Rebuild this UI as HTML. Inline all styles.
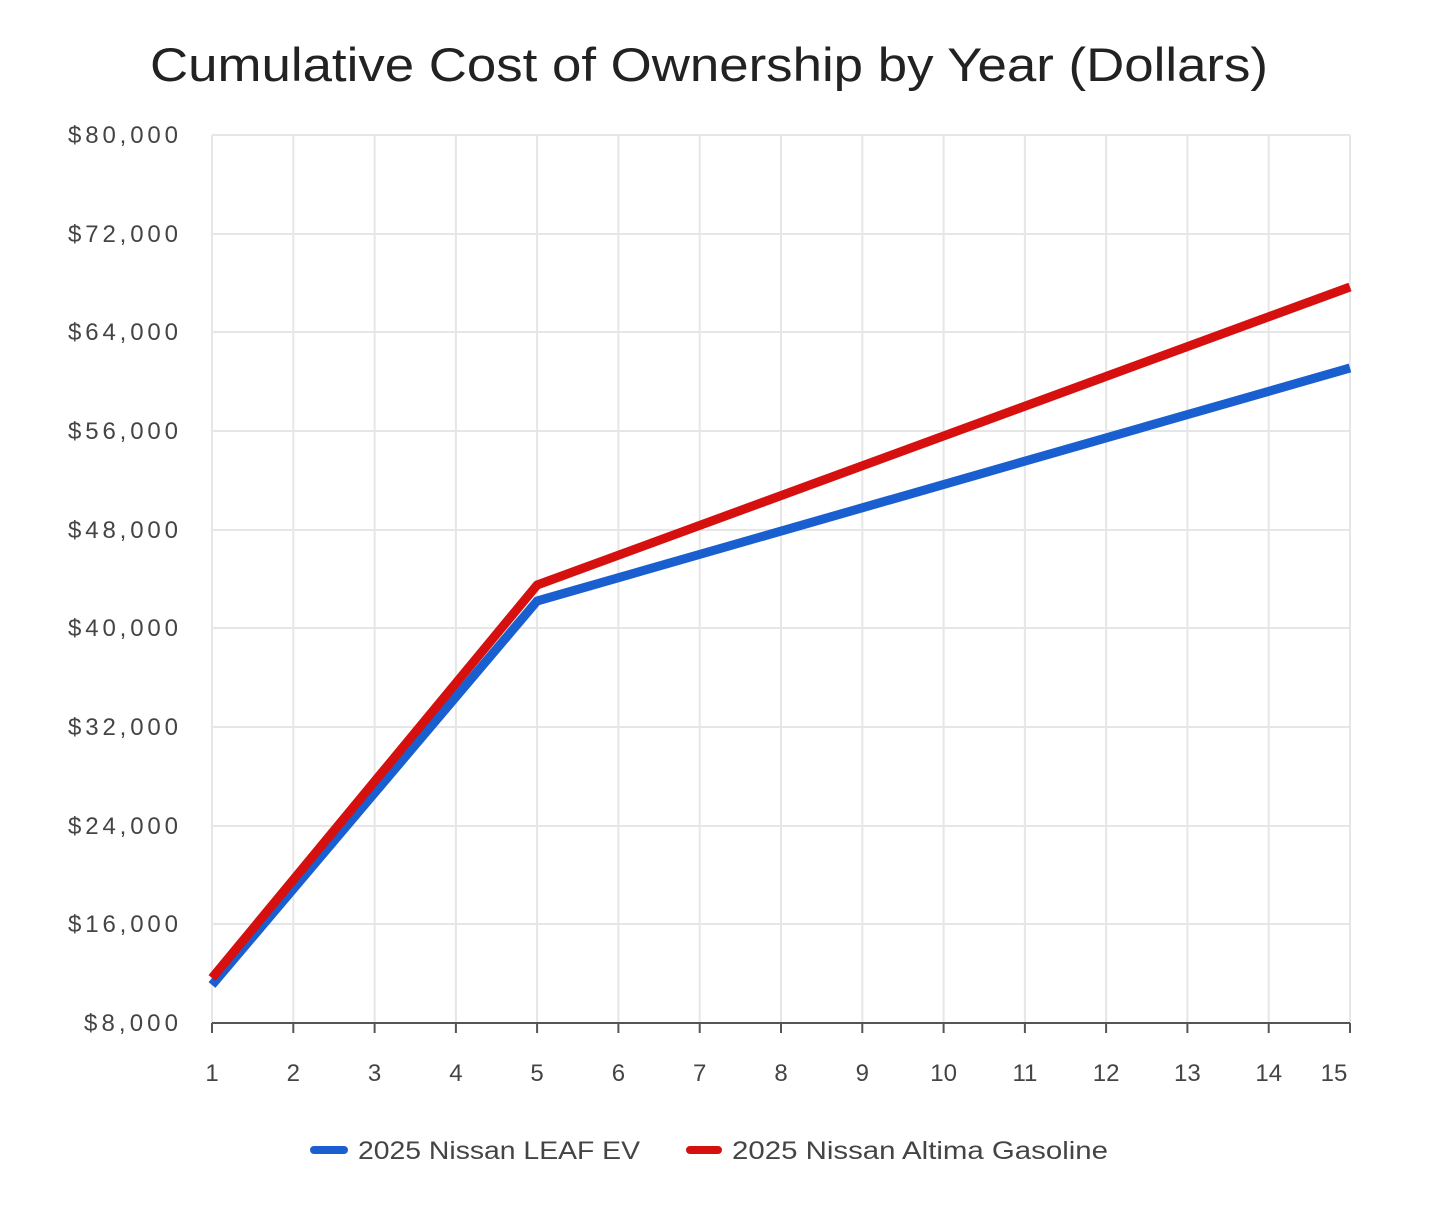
<!DOCTYPE html>
<html><head><meta charset="utf-8"><style>
html,body{margin:0;padding:0;background:#fff;}
svg{display:block;}
text{font-family:"Liberation Sans",sans-serif;}
</style></head><body>
<svg width="1440" height="1221" viewBox="0 0 1440 1221" xmlns="http://www.w3.org/2000/svg">
<rect width="1440" height="1221" fill="#fff"/>
<text x="150" y="81" font-size="47" fill="#222" textLength="1118" lengthAdjust="spacingAndGlyphs">Cumulative Cost of Ownership by Year (Dollars)</text>
<g stroke="#e6e6e6" stroke-width="2">
<line x1="212" y1="135" x2="1350" y2="135"/>
<line x1="212" y1="234" x2="1350" y2="234"/>
<line x1="212" y1="332" x2="1350" y2="332"/>
<line x1="212" y1="431" x2="1350" y2="431"/>
<line x1="212" y1="530" x2="1350" y2="530"/>
<line x1="212" y1="628" x2="1350" y2="628"/>
<line x1="212" y1="727" x2="1350" y2="727"/>
<line x1="212" y1="826" x2="1350" y2="826"/>
<line x1="212" y1="924" x2="1350" y2="924"/>
<line x1="293.3" y1="135" x2="293.3" y2="1023"/>
<line x1="374.6" y1="135" x2="374.6" y2="1023"/>
<line x1="455.9" y1="135" x2="455.9" y2="1023"/>
<line x1="537.1" y1="135" x2="537.1" y2="1023"/>
<line x1="618.4" y1="135" x2="618.4" y2="1023"/>
<line x1="699.7" y1="135" x2="699.7" y2="1023"/>
<line x1="781" y1="135" x2="781" y2="1023"/>
<line x1="862.3" y1="135" x2="862.3" y2="1023"/>
<line x1="943.6" y1="135" x2="943.6" y2="1023"/>
<line x1="1024.9" y1="135" x2="1024.9" y2="1023"/>
<line x1="1106.1" y1="135" x2="1106.1" y2="1023"/>
<line x1="1187.4" y1="135" x2="1187.4" y2="1023"/>
<line x1="1268.7" y1="135" x2="1268.7" y2="1023"/>
<line x1="1350" y1="135" x2="1350" y2="1023"/>
<line x1="212" y1="135" x2="212" y2="1023"/>
</g>
<line x1="212" y1="1023" x2="1350" y2="1023" stroke="#555" stroke-width="2"/>
<g stroke="#555" stroke-width="2">
<line x1="212" y1="1023" x2="212" y2="1033"/><line x1="293.3" y1="1023" x2="293.3" y2="1033"/><line x1="374.6" y1="1023" x2="374.6" y2="1033"/><line x1="455.9" y1="1023" x2="455.9" y2="1033"/><line x1="537.1" y1="1023" x2="537.1" y2="1033"/><line x1="618.4" y1="1023" x2="618.4" y2="1033"/><line x1="699.7" y1="1023" x2="699.7" y2="1033"/><line x1="781" y1="1023" x2="781" y2="1033"/><line x1="862.3" y1="1023" x2="862.3" y2="1033"/><line x1="943.6" y1="1023" x2="943.6" y2="1033"/><line x1="1024.9" y1="1023" x2="1024.9" y2="1033"/><line x1="1106.1" y1="1023" x2="1106.1" y2="1033"/><line x1="1187.4" y1="1023" x2="1187.4" y2="1033"/><line x1="1268.7" y1="1023" x2="1268.7" y2="1033"/><line x1="1350" y1="1023" x2="1350" y2="1033"/>
</g>
<g font-size="24" fill="#444" lengthAdjust="spacingAndGlyphs">
<text x="68" y="143" textLength="110">$80,000</text>
<text x="68" y="242" textLength="110">$72,000</text>
<text x="68" y="340" textLength="110">$64,000</text>
<text x="68" y="439" textLength="110">$56,000</text>
<text x="68" y="538" textLength="110">$48,000</text>
<text x="68" y="636" textLength="110">$40,000</text>
<text x="68" y="735" textLength="110">$32,000</text>
<text x="68" y="834" textLength="110">$24,000</text>
<text x="68" y="932" textLength="110">$16,000</text>
<text x="84" y="1031" textLength="94">$8,000</text>
</g>
<g font-size="24" fill="#444" text-anchor="middle">
<text x="212" y="1081">1</text><text x="293.3" y="1081">2</text><text x="374.6" y="1081">3</text><text x="455.9" y="1081">4</text><text x="537.1" y="1081">5</text><text x="618.4" y="1081">6</text><text x="699.7" y="1081">7</text><text x="781" y="1081">8</text><text x="862.3" y="1081">9</text><text x="943.6" y="1081">10</text><text x="1024.9" y="1081">11</text><text x="1106.1" y="1081">12</text><text x="1187.4" y="1081">13</text><text x="1268.7" y="1081">14</text><text x="1334" y="1081">15</text>
</g>
<polyline points="212,985 537.1,601 1350,368" fill="none" stroke="#1a5fd0" stroke-width="9" stroke-linejoin="round"/>
<polyline points="212,978 537.1,585 1350,287" fill="none" stroke="#d60f0f" stroke-width="9" stroke-linejoin="round"/>
<line x1="314" y1="1150" x2="344" y2="1150" stroke="#1a5fd0" stroke-width="8" stroke-linecap="round"/>
<text x="358" y="1159" font-size="25" fill="#444" textLength="282" lengthAdjust="spacingAndGlyphs">2025 Nissan LEAF EV</text>
<line x1="690" y1="1150" x2="718" y2="1150" stroke="#d60f0f" stroke-width="8" stroke-linecap="round"/>
<text x="732" y="1159" font-size="25" fill="#444" textLength="376" lengthAdjust="spacingAndGlyphs">2025 Nissan Altima Gasoline</text>
</svg>
</body></html>
